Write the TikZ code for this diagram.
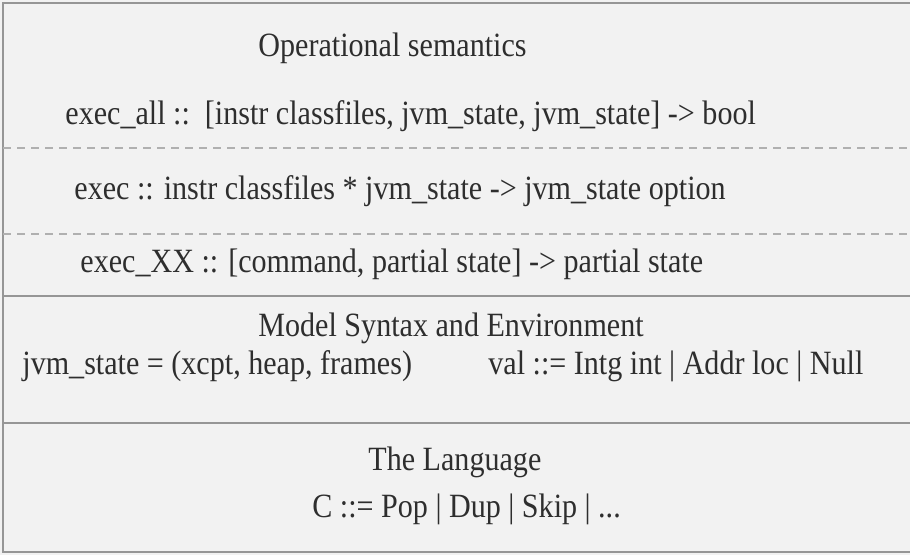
\documentclass[tikz,border=0pt]{standalone}
\usepackage{fontspec}
\setmainfont[FakeStretch=0.885]{Liberation Serif}
\definecolor{paper}{HTML}{F2F2F2}
\definecolor{ink}{HTML}{2E2E2E}
\definecolor{rulecol}{HTML}{969696}
\begin{document}
\begin{tikzpicture}[x=0.5pt,y=-0.5pt,
  txt/.style={text=ink,inner sep=0pt,anchor=west,font=\fontsize{17}{19}\selectfont},
  rulesolid/.style={draw=rulecol,line width=1pt},
  ruledash/.style={draw=rulecol!75,line width=0.6pt,dash pattern=on 4pt off 3pt}]
% page
\fill[paper] (0,0) rectangle (910,555);
\useasboundingbox (0,0) rectangle (910,555);

% frame and rules
\coordinate (tl) at (3,3);
\coordinate (tr) at (910,3);
\coordinate (bl) at (3,552);
\coordinate (br) at (910,552);
\draw[rulesolid] (tr) -- (tl) -- (bl) -- (br);
\draw[ruledash] (3,148) -- (910,148);
\draw[ruledash] (3,234) -- (910,234);
\draw[rulesolid] (3,296) -- (910,296);
\draw[rulesolid] (3,423) -- (910,423);

% operational semantics
\node[txt] (opsem) at (258,48) {Operational semantics};
\node[txt] (execall) at (65,116) {exec\_all ::\ \ [instr classfiles, jvm\_state, jvm\_state] -> bool};
\node[txt] (exec) at (74,191) {exec :: instr classfiles * jvm\_state -> jvm\_state option};
\node[txt] (execxx) at (80,264) {exec\_XX :: [command, partial state] -> partial state};

% model syntax and environment
\node[txt] (model) at (258,328) {Model Syntax and Environment};
\node[txt] (jvmstate) at (22,366) {jvm\_state = (xcpt, heap, frames)};
\node[txt] (val) at (488,366) {val ::= Intg int | Addr loc | Null};

% the language
\node[txt] (lang) at (368,462) {The Language};
\node[txt] (cmd) at (312,509) {C ::= Pop | Dup | Skip | ...};
\end{tikzpicture}
\end{document}
